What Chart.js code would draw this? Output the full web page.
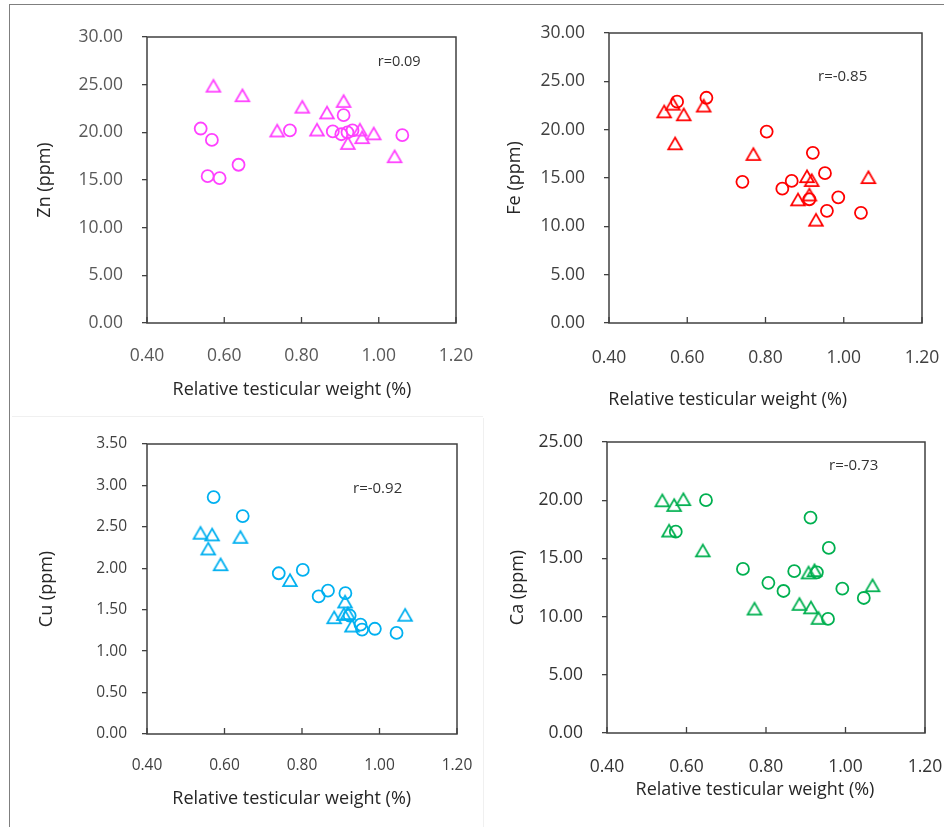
<!DOCTYPE html>
<html>
<head>
<meta charset="utf-8">
<script src="https://cdn.jsdelivr.net/npm/chart.js@4"></script>
<style>
  body { margin: 0; background: #fff; width: 944px; height: 827px; overflow: hidden; position: relative; }
  canvas { position: absolute; left: 0; top: 0; }
  #frame { position: absolute; left: 9px; top: 4px; width: 940px; height: 830px; border-left: 1px solid #7f7f7f; border-top: 1px solid #7f7f7f; }
  #faintH { position: absolute; left: 12px; top: 416px; width: 471px; border-top: 1px solid #f0f0f0; }
  #faintV { position: absolute; left: 483px; top: 418px; height: 410px; border-left: 1px solid #f0f0f0; }
</style>
</head>
<body>
<div id="frame"></div>
<div id="faintH"></div>
<div id="faintV"></div>
<canvas id="zn" width="944" height="827"></canvas>
<canvas id="fe" width="944" height="827"></canvas>
<canvas id="cu" width="944" height="827"></canvas>
<canvas id="ca" width="944" height="827"></canvas>
<script>
// relative testicular weight (%) vs. element (ppm), circles and triangles per panel
const xTicks = [0.4, 0.6, 0.8, 1.0, 1.2];

const znCircX = [0.539, 0.568, 0.557, 0.588, 0.637, 0.770, 0.881, 0.909, 0.903, 0.919, 0.932, 1.061];
const znCircY = [20.4, 19.2, 15.4, 15.2, 16.6, 20.2, 20.1, 21.8, 19.8, 20.0, 20.2, 19.7];
const znTriX = [0.572, 0.647, 0.802, 0.866, 0.909, 0.737, 0.840, 0.920, 0.951, 0.957, 0.987, 1.041];
const znTriY = [24.9, 23.9, 22.7, 22.1, 23.3, 20.2, 20.3, 18.9, 20.3, 19.5, 19.9, 17.5];

const feCircX = [0.574, 0.649, 0.803, 0.741, 0.843, 0.867, 0.921, 0.952, 0.912, 0.986, 0.957, 1.044];
const feCircY = [22.9, 23.3, 19.8, 14.6, 13.9, 14.7, 17.6, 15.5, 12.8, 13.0, 11.6, 11.4];
const feTriX = [0.541, 0.563, 0.591, 0.642, 0.569, 0.769, 0.906, 0.918, 0.912, 0.883, 0.929, 1.063];
const feTriY = [21.9, 22.7, 21.6, 22.5, 18.6, 17.5, 15.2, 14.8, 13.3, 12.8, 10.7, 15.1];

const cuCircX = [0.572, 0.647, 0.740, 0.802, 0.843, 0.867, 0.912, 0.923, 0.951, 0.955, 0.988, 1.044];
const cuCircY = [2.86, 2.63, 1.94, 1.98, 1.66, 1.73, 1.70, 1.43, 1.32, 1.26, 1.27, 1.22];
const cuTriX = [0.538, 0.568, 0.558, 0.590, 0.641, 0.769, 0.883, 0.908, 0.911, 0.918, 0.929, 1.066];
const cuTriY = [2.43, 2.41, 2.24, 2.05, 2.38, 1.86, 1.41, 1.45, 1.60, 1.46, 1.31, 1.44];

const caCircX = [0.649, 0.573, 0.742, 0.806, 0.844, 0.871, 0.912, 0.928, 0.958, 0.956, 0.992, 1.046];
const caCircY = [20.0, 17.3, 14.1, 12.9, 12.2, 13.9, 18.5, 13.8, 15.9, 9.8, 12.4, 11.6];
const caTriX = [0.539, 0.569, 0.592, 0.556, 0.641, 0.771, 0.884, 0.907, 0.922, 0.913, 0.932, 1.068];
const caTriY = [20.0, 19.6, 20.1, 17.4, 15.7, 10.7, 11.1, 13.8, 14.0, 10.8, 9.9, 12.7];

const rLabels = ['r=0.09', 'r=-0.85', 'r=-0.92', 'r=-0.73'];
const yTitles = ['Zn (ppm)', 'Fe (ppm)', 'Cu (ppm)', 'Ca (ppm)'];
const xTitle = 'Relative testicular weight (%)';

Chart.defaults.font.family = "'Open Sans', sans-serif";

function pts(xs, ys) {
  return xs.map((x, i) => ({ x: x, y: ys[i] }));
}

// open triangle marker, centred on its box like the spreadsheet marker
function triangle(color) {
  const c = document.createElement('canvas');
  c.width = 20; c.height = 20;
  const g = c.getContext('2d');
  g.strokeStyle = color;
  g.lineWidth = 1.8;
  g.beginPath();
  g.moveTo(10, 10 - 5.6);
  g.lineTo(10 - 6.8, 10 + 6.1);
  g.lineTo(10 + 6.8, 10 + 6.1);
  g.closePath();
  g.stroke();
  return c;
}

const panels = [
  { id: 'zn', color: '#ff40ff', circ: pts(znCircX, znCircY), tri: pts(znTriX, znTriY), ymax: 30, step: 5,
    area: [147, 37, 456, 323], yw: 112.8, yPad: 19, xPad: 14.5, tick: 17.5, tickColor: '#595959',
    xt: [292, 390], rt: [377.7, 61.7], rSize: 14.5 },
  { id: 'fe', color: '#ff0000', circ: pts(feCircX, feCircY), tri: pts(feTriX, feTriY), ymax: 30, step: 5,
    area: [609, 33, 922, 323], yw: 104.8, yPad: 19, xPad: 16.5, tick: 17.5, tickColor: '#404040',
    xt: [727.7, 400], rt: [818, 76.3], rSize: 15 },
  { id: 'cu', color: '#00b0f0', circ: pts(cuCircX, cuCircY), tri: pts(cuTriX, cuTriY), ymax: 3.5, step: 0.5,
    area: [147, 444, 457, 734], yw: 111.1, yPad: 15, xPad: 14, tick: 15.5, tickColor: '#404040',
    xt: [291.7, 799.3], rt: [353, 489], rSize: 15 },
  { id: 'ca', color: '#00b050', circ: pts(caCircX, caCircY), tri: pts(caTriX, caTriY), ymax: 25, step: 5,
    area: [607, 442, 925, 733], yw: 99.5, yPad: 19, xPad: 15.8, tick: 17.5, tickColor: '#333333',
    xt: [755, 790], rt: [829, 465.7], rSize: 15 }
];

panels.forEach((p, k) => {
  const [L, T, R, B] = p.area;
  const xh = 40;

  const decor = {
    id: 'decor',
    afterDraw(chart) {
      const ctx = chart.ctx;
      const a = chart.chartArea;
      const xs = chart.scales.x;
      ctx.save();
      ctx.strokeStyle = '#404040';
      ctx.lineWidth = 1.5;
      ctx.strokeRect(a.left, a.top, a.right - a.left, a.bottom - a.top);
      ctx.lineWidth = 1.3;
      xs.ticks.forEach(t => {
        const px = xs.getPixelForValue(t.value);
        ctx.beginPath();
        ctx.moveTo(px, a.bottom);
        ctx.lineTo(px, a.bottom - 6);
        ctx.stroke();
      });
      ctx.fillStyle = '#262626';
      ctx.font = "18px 'Open Sans', sans-serif";
      ctx.textAlign = 'center';
      ctx.textBaseline = 'middle';
      ctx.fillText(xTitle, p.xt[0], p.xt[1]);
      ctx.fillStyle = '#333333';
      ctx.font = p.rSize + "px 'Open Sans', sans-serif";
      ctx.textAlign = 'left';
      ctx.fillText(rLabels[k], p.rt[0], p.rt[1]);
      ctx.restore();
    }
  };

  new Chart(document.getElementById(p.id), {
    type: 'scatter',
    data: {
      datasets: [
        { data: p.circ, pointStyle: 'circle', pointRadius: 6, pointHoverRadius: 6,
          borderColor: p.color, backgroundColor: 'rgba(0,0,0,0)', borderWidth: 1.8 },
        { data: p.tri, pointStyle: triangle(p.color), pointRadius: 8,
          borderColor: p.color, backgroundColor: 'rgba(0,0,0,0)' }
      ]
    },
    options: {
      responsive: false,
      animation: false,
      events: [],
      layout: { padding: { left: L - p.yw, top: T, right: 944 - R, bottom: 827 - B - xh } },
      plugins: { legend: { display: false }, tooltip: { enabled: false } },
      scales: {
        x: {
          type: 'linear', min: 0.4, max: 1.2,
          afterBuildTicks: s => { s.ticks = xTicks.map(v => ({ value: v })); },
          afterFit: s => { s.height = xh; s.paddingLeft = 0; s.paddingRight = 0; },
          grid: { display: false },
          border: { display: false },
          ticks: { padding: p.xPad, color: p.tickColor, font: { size: p.tick },
                   callback: v => v.toFixed(2), maxRotation: 0 }
        },
        y: {
          min: 0, max: p.ymax,
          afterFit: s => { s.width = p.yw; s.paddingTop = 0; s.paddingBottom = 0; },
          grid: { drawOnChartArea: false, drawTicks: true, tickLength: 5, color: '#404040', lineWidth: 1.3 },
          border: { display: false },
          ticks: { stepSize: p.step, padding: p.yPad, color: p.tickColor, font: { size: p.tick },
                   callback: v => v.toFixed(2) },
          title: { display: true, text: yTitles[k], color: '#262626', font: { size: 18 }, padding: 0 }
        }
      }
    },
    plugins: [decor]
  });
});
</script>
</body>
</html>
